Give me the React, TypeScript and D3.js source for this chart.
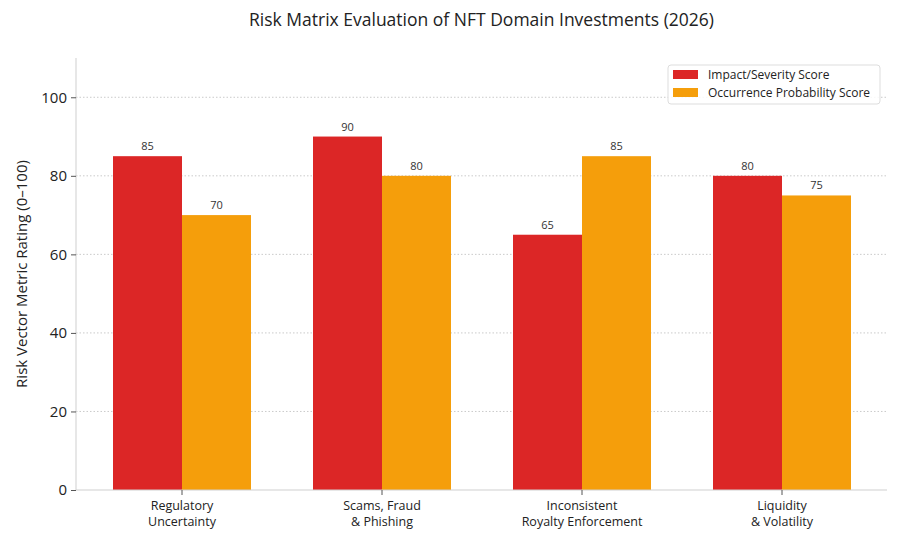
import { useEffect, useRef } from "react"
import * as d3 from "d3"

const categories = ["Regulatory\nUncertainty", "Scams, Fraud\n& Phishing", "Inconsistent\nRoyalty Enforcement", "Liquidity\n& Volatility"]
const impactScores = [85, 90, 65, 80]
const occurrenceScores = [70, 80, 85, 75]
const seriesNames = ["Impact/Severity Score", "Occurrence Probability Score"]
const yTicks = [0, 20, 40, 60, 80, 100]

const FONT = "'Open Sans', sans-serif"
const COLORS = ["#dc2626", "#f59e0b"]

export default function App() {
    const svgRef = useRef<SVGSVGElement>(null)

    useEffect(() => {
        if (!svgRef.current) return
        const svg = d3.select(svgRef.current)
        svg.selectAll("*").remove()

        const left = 76, right = 887, top = 58, bottom = 490

        const x = d3.scaleBand<string>().domain(categories).range([82, 882]).padding(0)
        const xs = d3.scaleBand<number>().domain([0, 1]).range([-69, 69]).padding(0)
        const y = d3.scaleLinear().domain([0, 110]).range([bottom, top])

        // title
        svg.append("text")
            .attr("x", (left + right) / 2).attr("y", 26)
            .attr("text-anchor", "middle")
            .attr("font-family", FONT).attr("font-size", 17.5).attr("fill", "#222")
            .text("Risk Matrix Evaluation of NFT Domain Investments (2026)")

        // grid
        svg.append("g").selectAll("line")
            .data(yTicks.filter(d => d > 0))
            .join("line")
            .attr("x1", left).attr("x2", right)
            .attr("y1", d => y(d)).attr("y2", d => y(d))
            .attr("stroke", "#bdbdbd").attr("stroke-width", 0.8)
            .attr("stroke-dasharray", "1.5,2")

        // bars
        const groups = svg.append("g").selectAll("g")
            .data(categories)
            .join("g")
            .attr("transform", d => `translate(${x(d)! + x.bandwidth() / 2},0)`)

        groups.selectAll("rect")
            .data((d, i) => [impactScores[i], occurrenceScores[i]])
            .join("rect")
            .attr("x", (d, j) => xs(j)!)
            .attr("width", xs.bandwidth())
            .attr("y", d => y(d))
            .attr("height", d => y(0) - y(d))
            .attr("fill", (d, j) => COLORS[j])

        groups.selectAll("text.val")
            .data((d, i) => [impactScores[i], occurrenceScores[i]])
            .join("text")
            .attr("class", "val")
            .attr("x", (d, j) => xs(j)! + xs.bandwidth() / 2)
            .attr("y", d => y(d) - 6)
            .attr("text-anchor", "middle")
            .attr("font-family", FONT).attr("font-size", 11).attr("fill", "#333")
            .text(d => d)

        // y axis
        const yAxis = svg.append("g")
            .attr("transform", `translate(${left},0)`)
            .call(d3.axisLeft(y).tickValues(yTicks).tickSize(5).tickPadding(4))
        yAxis.select(".domain").attr("stroke", "#cfcfcf").attr("d", `M0,${top}V${bottom}`)
        yAxis.selectAll(".tick line").attr("stroke", "#555")
        yAxis.selectAll(".tick text")
            .attr("font-family", FONT).attr("font-size", 15).attr("fill", "#222")

        // x axis
        const xAxis = svg.append("g")
            .attr("transform", `translate(0,${bottom})`)
            .call(d3.axisBottom(x).tickSize(5).tickFormat(() => ""))
        xAxis.select(".domain").attr("stroke", "#cfcfcf").attr("d", `M${left},0H${right}`)
        xAxis.selectAll(".tick line").attr("stroke", "#555")
        xAxis.selectAll(".tick").each(function (d) {
            const lines = String(d).split("\n")
            lines.forEach((ln, k) => {
                d3.select(this).append("text")
                    .attr("fill", "#222").attr("font-family", FONT).attr("font-size", 12.5)
                    .attr("text-anchor", "middle")
                    .attr("x", 0).attr("y", 20 + k * 15.5)
                    .text(ln)
            })
        })

        // y label
        svg.append("text")
            .attr("transform", `translate(27,${(top + bottom) / 2}) rotate(-90)`)
            .attr("text-anchor", "middle")
            .attr("font-family", FONT).attr("font-size", 15).attr("fill", "#222")
            .text("Risk Vector Metric Rating (0–100)")

        // legend
        const lg = svg.append("g").attr("transform", "translate(668,65)")
        lg.append("rect")
            .attr("width", 212).attr("height", 39).attr("rx", 3)
            .attr("fill", "white").attr("fill-opacity", 0.85)
            .attr("stroke", "#dddddd")
        seriesNames.forEach((name, i) => {
            lg.append("rect")
                .attr("x", 5).attr("y", 5 + i * 18)
                .attr("width", 25).attr("height", 9)
                .attr("fill", COLORS[i])
            lg.append("text")
                .attr("x", 40).attr("y", 14 + i * 18)
                .attr("font-family", FONT).attr("font-size", 12).attr("fill", "#222")
                .text(name)
        })
    }, [])

    return <svg ref={svgRef} width={900} height={540}
        style={{ position: "absolute", left: 0, top: 0, background: "white" }} />
}
